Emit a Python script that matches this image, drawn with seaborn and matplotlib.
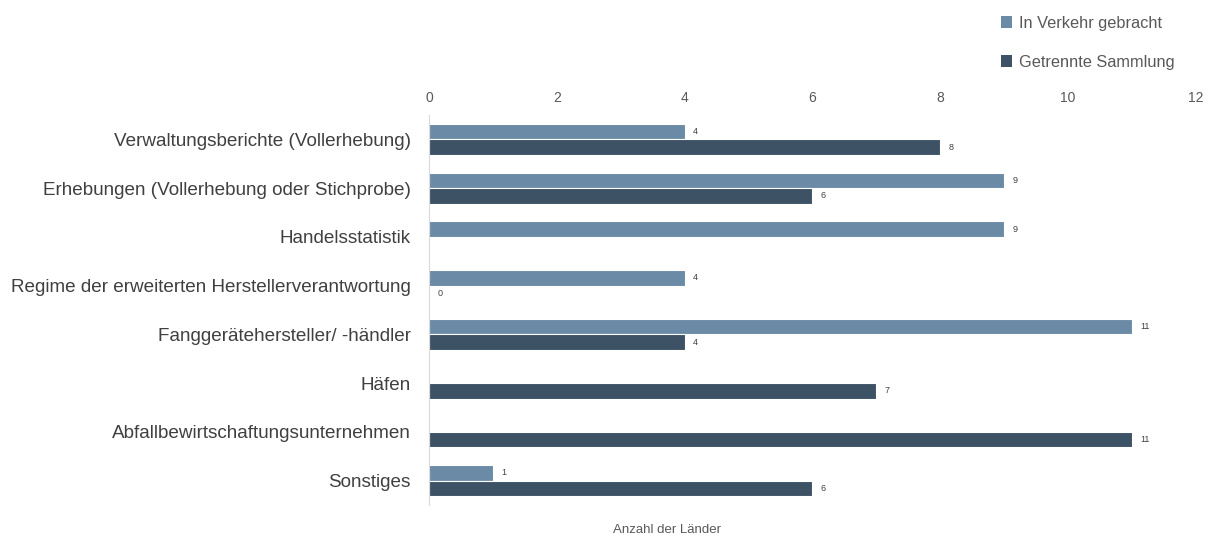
import numpy as np
import pandas as pd
import matplotlib
matplotlib.use("Agg")
import matplotlib.pyplot as plt
import seaborn as sns
from matplotlib.patches import Patch

categories = [
    "Verwaltungsberichte (Vollerhebung)",
    "Erhebungen (Vollerhebung oder Stichprobe)",
    "Handelsstatistik",
    "Regime der erweiterten Herstellerverantwortung",
    "Fanggerätehersteller/ -händler",
    "Häfen",
    "Abfallbewirtschaftungsunternehmen",
    "Sonstiges",
]
series_names = ["In Verkehr gebracht", "Getrennte Sammlung"]
in_verkehr = [4, 9, 9, 4, 11, np.nan, np.nan, 1]
getrennte = [8, 6, np.nan, 0, 4, 7, 11, 6]
x_ticks = [0, 2, 4, 6, 8, 10, 12]
x_label = "Anzahl der Länder"
colors = ["#6a8aa6", "#3e5266"]

df = pd.DataFrame({
    "Kategorie": categories * 2,
    "Serie": [series_names[0]] * len(categories) + [series_names[1]] * len(categories),
    "Wert": in_verkehr + getrennte,
})

sns.set_theme(style="white")
plt.rcParams["font.family"] = ["Liberation Sans", "DejaVu Sans"]

fig = plt.figure(figsize=(12.1, 5.4), dpi=100)
ax = fig.add_axes([429 / 1210, 1 - 505 / 540, (1196 - 429) / 1210, (505 - 115) / 540])

sns.barplot(data=df, y="Kategorie", x="Wert", hue="Serie", hue_order=series_names,
            order=categories, palette=colors, saturation=1, orient="h", width=0.64,
            edgecolor="white", linewidth=0.8, ax=ax, legend=False)

for cont in ax.containers:
    labels = []
    for p in cont.patches:
        w = p.get_width()
        labels.append("" if np.isnan(w) else f"{int(round(w))}")
    ax.bar_label(cont, labels=labels, padding=6, fontsize=6.5, color="#404040")

ax.set_xlim(0, 12)
ax.set_xticks(x_ticks)
ax.xaxis.tick_top()
ax.tick_params(axis="x", length=0, labelsize=10, labelcolor="#595959", pad=7)
ax.tick_params(axis="y", length=0, labelsize=13.6, labelcolor="#404040", pad=13)
ax.set_ylabel("")
ax.set_xlabel("")
for s in ["top", "right", "bottom"]:
    ax.spines[s].set_visible(False)
ax.spines["left"].set_color("#d9d9d9")
ax.spines["left"].set_linewidth(0.8)

fig.text((607 + 727) / 2 / 1210, 1 - 530 / 540, x_label, ha="center", va="center",
         fontsize=9.5, color="#595959")

handles = [Patch(facecolor=c, edgecolor="none") for c in colors]
fig.legend(handles, series_names, loc="upper left", bbox_to_anchor=(986 / 1210, 1 - 1 / 540),
           frameon=False, fontsize=11.8, labelcolor="#595959", handlelength=0.7,
           handleheight=0.7, handletextpad=0.4, labelspacing=1.45)

fig.savefig("out.png", dpi=100)
